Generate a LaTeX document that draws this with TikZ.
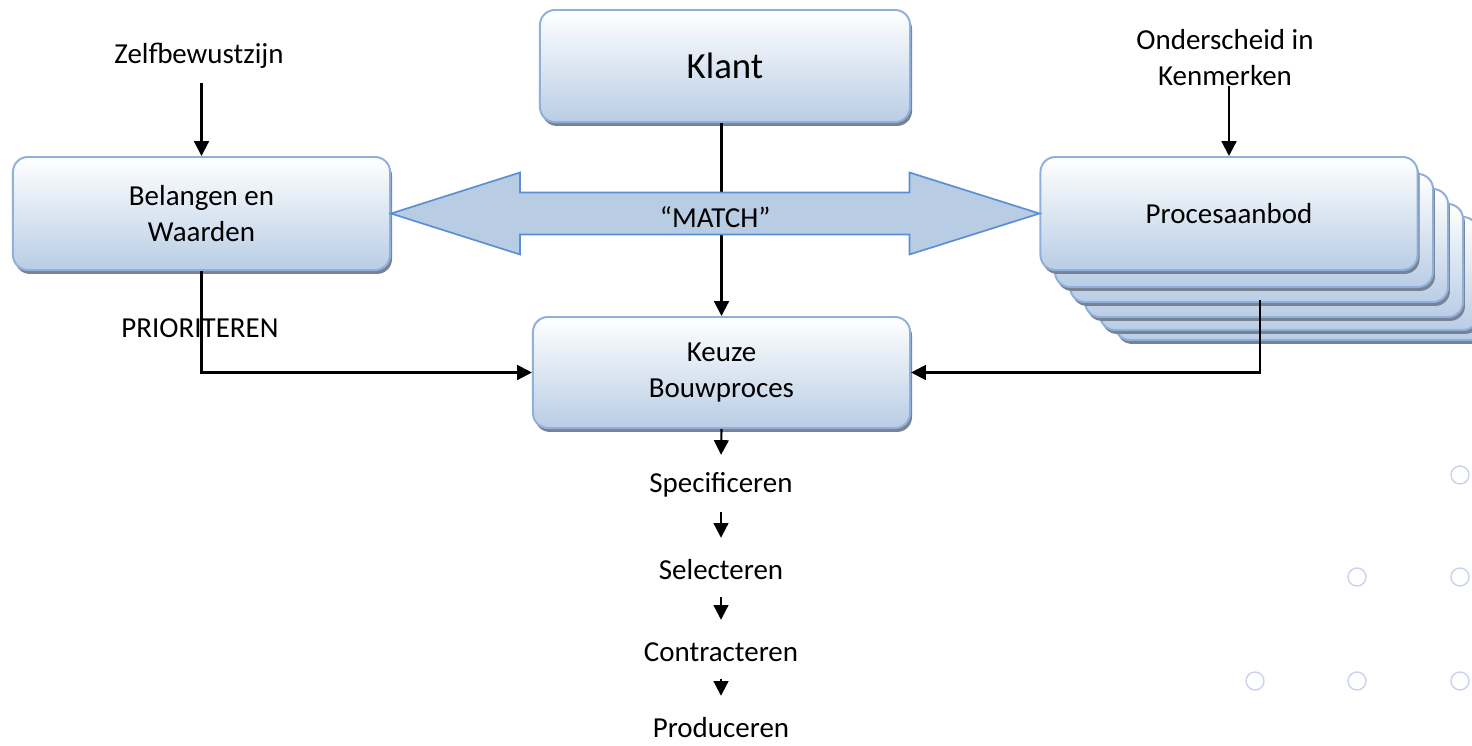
\documentclass[tikz,border=0pt]{standalone}
\usepackage{fontspec}
\setmainfont{Carlito}
\usepackage{tikz}
\usetikzlibrary{shapes,arrows,arrows.meta}
\usetikzlibrary{positioning}
\usetikzlibrary{calc,shadows}

\definecolor{boxblue}{RGB}{185,205,229}
\definecolor{boxedge}{RGB}{143,176,218}
\definecolor{shadowgray}{RGB}{120,130,148}
\definecolor{matchfill}{RGB}{184,204,228}
\definecolor{matchedge}{RGB}{91,143,213}
\definecolor{ringblue}{RGB}{200,210,236}

\begin{document}
\begin{tikzpicture}[x=0.025cm,y=-0.025cm,
    txt/.style={font=\fontsize{20.6pt}{25.6pt}\selectfont, inner sep=0pt, align=center},
    layer/.style={draw=boxedge, line width=1.4pt, rounded corners=0.375cm,
      top color=white, bottom color=boxblue,
      general shadow={fill=shadowgray, shadow xshift=1.4pt, shadow yshift=-2.8pt}},
    box/.style={txt, layer, minimum width=9.425cm, minimum height=2.825cm},
    stage/.style={txt, minimum height=1.35cm},
    arr/.style={line width=1.5pt, -{Triangle[length=10.5pt,width=10.5pt]}},
    matcharrow/.style={fill=matchfill, draw=matchedge, line width=1.2pt, line join=miter},
    ring/.style={draw=ringblue, line width=1pt}]
     \useasboundingbox (0,0) rectangle (1472,745);
     % klant, belangen en waarden, keuze
     \node[box, minimum width=9.25cm, minimum height=2.8cm, font=\fontsize{26.2pt}{32pt}\selectfont] (klant) at (725,66) {Klant};
     \node[box] (bel) at (201.5,213.5) {Belangen en\\Waarden};
     \node[box, minimum height=2.775cm] (keuze) at (721.5,372.5) {Keuze\\Bouwproces};
     % stapel procesaanbod
     \foreach \dx/\dy in {75/70,60/60,45/47,30/32,15/17}
        \path[layer] (1040+\dx,157+\dy) rectangle (1418+\dx,270+\dy);
     \node[box] (proc) at (1229,213.5) {Procesaanbod};
     \node[txt] (zelf) at (199,56) {Zelfbewustzijn};
     \node[txt] (onder) at (1225,58) {Onderscheid in\\Kenmerken};
     \node[txt] (prio) at (200,328) {PRIORITEREN};
     \coordinate (procout) at (1260,300);
     \draw[arr] ([yshift=-10pt]zelf.south -| bel.north) -- (bel.north);
     \draw[arr] (onder.south -| proc.north) -- (proc.north);
     \draw[arr] (klant.south -| keuze.north) -- (keuze.north);
     \draw[arr] (bel.south) |- (keuze.west);
     \draw[arr] (procout) |- (keuze.east);
     % "MATCH"
     \draw[matcharrow] (bel.east) -- ++(129,-41) -- ++(0,20) -- ($(proc.west)+(-130,-21)$) -- ++(0,-20)
        -- (proc.west) -- ++(-130,41) -- ++(0,-20) -- ($(bel.east)+(129,21)$) -- ++(0,20) -- cycle;
     \node[txt] (match) at ($(bel.east)!0.5!(proc.west)+(0,3.5)$) {“MATCH”};
     % stappen
     \node[stage] (spec) at (721,485) {Specificeren};
     \node[stage] (sel) at (721,570) {Selecteren};
     \node[stage] (contr) at (721,652) {Contracteren};
     \node[stage] (prod) at (721,728) {Produceren};
     \draw[arr, shorten >=2pt] (keuze.south) -- (spec.north);
     \foreach \a/\b in {spec/sel,sel/contr,contr/prod}
        \draw[arr, shorten >=3.5pt] (\a.south) -- (\b.north);
     \foreach \cx/\cy in {1460/475,1357/577,1460/577,1255/681,1357/681,1460/681}
        \draw[ring] (\cx,\cy) circle[radius=9];
\end{tikzpicture}
\end{document}
